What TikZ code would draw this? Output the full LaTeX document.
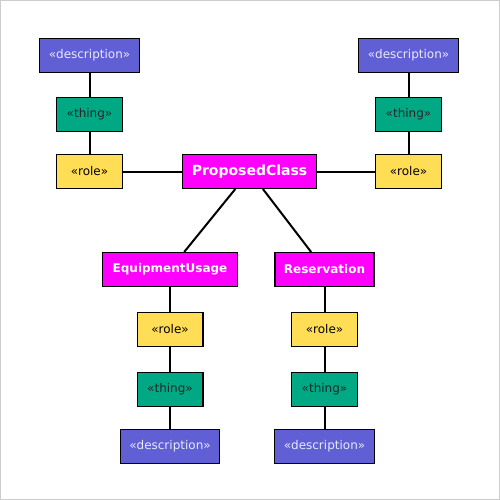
\documentclass[tikz,border=0pt]{standalone}
\usepackage{fontspec}
\setmainfont{DejaVu Sans}
\usetikzlibrary{positioning}
\definecolor{descblue}{RGB}{96,96,212}
\definecolor{desctext}{RGB}{232,232,255}
\definecolor{thinggreen}{RGB}{0,168,132}
\definecolor{roleyellow}{RGB}{255,221,85}
\definecolor{classmagenta}{RGB}{255,0,255}
\definecolor{framegray}{RGB}{204,204,204}
\tikzset{
  box/.style={rectangle, draw=black, line width=1.2pt, minimum height=33.8pt,
              inner xsep=9pt, align=center, font=\fontsize{12}{14}\selectfont},
  descbox/.style={box, fill=descblue, text=desctext, minimum width=97.8pt},
  thingbox/.style={box, fill=thinggreen, text=black!85, minimum width=65.8pt},
  rolebox/.style={box, fill=roleyellow, text=black, minimum width=65.8pt},
  classbox/.style={box, fill=classmagenta, text=white, font=\fontsize{12}{14}\selectfont\bfseries},
  link/.style={line width=2pt, black},
}
\begin{document}
\begin{tikzpicture}[x=1pt, y=-1pt, node distance=23pt]
\useasboundingbox (0,0) rectangle (500,500);
\draw[framegray, line width=1pt] (0.5,0.5) rectangle (499.5,499.5);

% centre class
\node[classbox, font=\fontsize{14}{16}\selectfont\bfseries, minimum width=131.8pt] (proposed) at (249.5,171.5) {ProposedClass};

% left chain
\node[rolebox] (roleA) at (89.5,171.5) {«role»};
\node[thingbox, above=22pt of roleA] (thingA) {«thing»};
\node[descbox, above=24pt of thingA] (descA) {«description»};

% right chain
\node[rolebox] (roleB) at (408.5,171.5) {«role»};
\node[thingbox, above=22pt of roleB] (thingB) {«thing»};
\node[descbox, above=24pt of thingB] (descB) {«description»};

% sub classes
\node[classbox, minimum width=134.8pt] (usage) at (170,269.5) {EquipmentUsage};
\node[classbox, minimum width=97.8pt] (reserv) at (324.5,269.5) {Reservation};

\node[rolebox, below=25pt of usage] (roleC) {«role»};
\node[thingbox, below=25pt of roleC] (thingC) {«thing»};
\node[descbox, below=22pt of thingC] (descC) {«description»};

\node[rolebox, below=25pt of reserv] (roleD) {«role»};
\node[thingbox, below=25pt of roleD] (thingD) {«thing»};
\node[descbox, below=22pt of thingD] (descD) {«description»};

\foreach \a/\b in {descA/thingA, thingA/roleA, roleA/proposed,
                   descB/thingB, thingB/roleB, roleB/proposed,
                   proposed/usage, proposed/reserv,
                   usage/roleC, roleC/thingC, thingC/descC,
                   reserv/roleD, roleD/thingD, thingD/descD}
  \draw[link] (\a) -- (\b);
\end{tikzpicture}
\end{document}
